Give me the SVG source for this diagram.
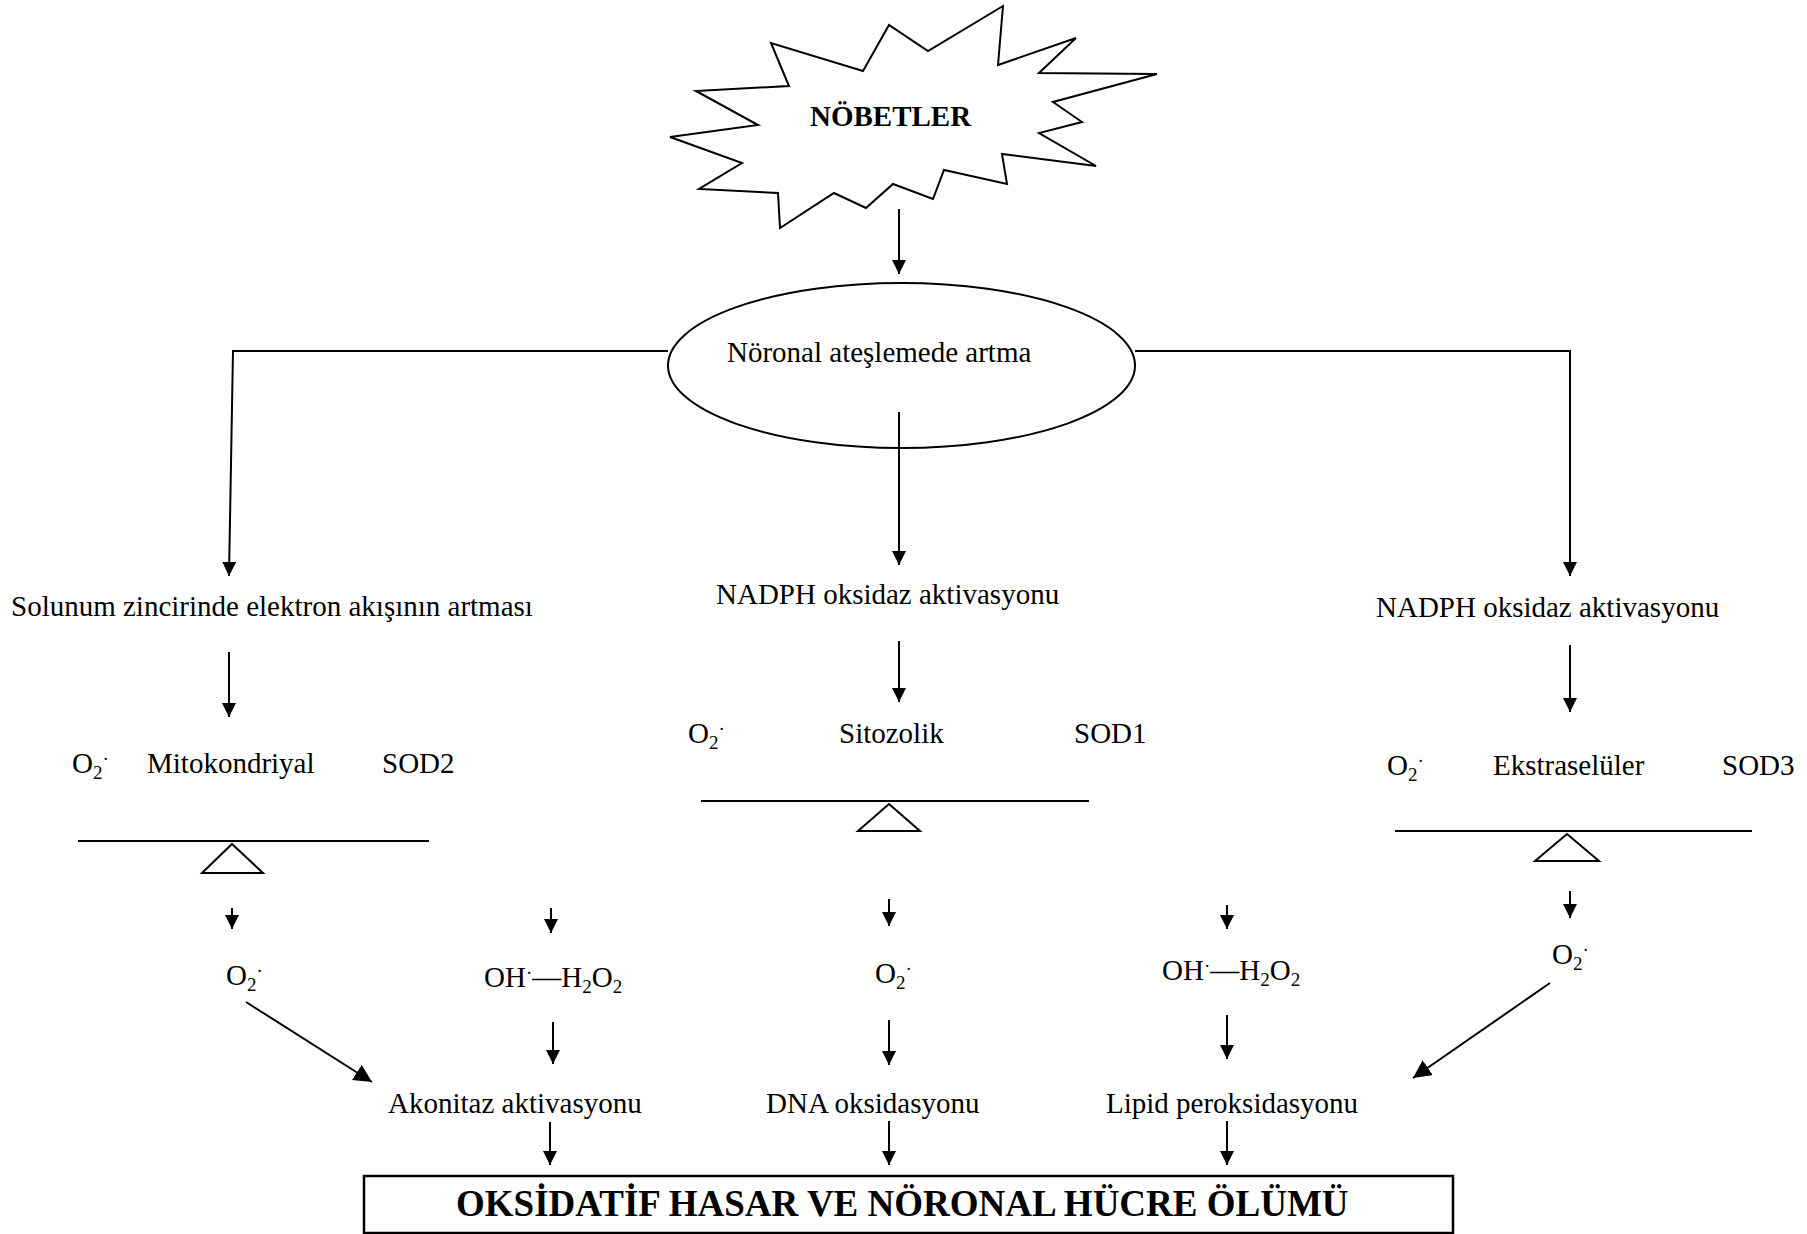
<svg xmlns="http://www.w3.org/2000/svg" width="1807" height="1234" viewBox="0 0 1807 1234">
<style>
  .t { font-family: "Liberation Serif", "Times New Roman", serif; font-size: 29px; fill: #000; }
  .b { font-weight: bold; }
  .s { font-size: 19px; }
  .ln { fill: none; stroke: #000; stroke-width: 2; }
  .shape { fill: #fff; stroke: #000; stroke-width: 2; }
</style>
<defs>
  <marker id="ah" viewBox="0 0 14 14" refX="14" refY="7" markerWidth="14" markerHeight="14" orient="auto" markerUnits="userSpaceOnUse">
    <path d="M0,0 L14,7 L0,14 z" fill="#000"/>
  </marker>
  <marker id="ah2" viewBox="0 0 18 18" refX="18" refY="9" markerWidth="18" markerHeight="18" orient="auto" markerUnits="userSpaceOnUse">
    <path d="M0,0 L18,9 L0,18 z" fill="#000"/>
  </marker>
</defs>
<rect width="1807" height="1234" fill="#fff"/>

<g id="nobetler">
  <polygon class="shape" points="1003,6 998,65 1076,38 1039,73 1157,74 1053,102 1082,122 1039,133 1096,166 1002,154 1007,184 944,170 933,199 893,184 866,208 834,193 780,228 778,193 699,189 742,163 670,137 758,125 696,91 789,86 771,43 863,71 889,25 928,51"/>
  <text class="t b" x="810" y="126">NÖBETLER</text>
</g>

<g id="noronal">
  <ellipse class="shape" cx="901.5" cy="365.5" rx="233.5" ry="82.5"/>
  <text class="t" x="727" y="362">Nöronal ateşlemede artma</text>
</g>

<g id="solunum"><text class="t" x="11" y="616">Solunum zincirinde elektron akışının artması</text></g>
<g id="nadph1"><text class="t" x="716" y="604">NADPH oksidaz aktivasyonu</text></g>
<g id="nadph2"><text class="t" x="1376" y="617">NADPH oksidaz aktivasyonu</text></g>

<g id="balance-sod2">
  <text class="t" x="72" y="773">O<tspan class="s" dy="6">2</tspan><tspan class="s" dy="-14">·</tspan></text>
  <text class="t" x="147" y="773">Mitokondriyal</text>
  <text class="t" x="382" y="773">SOD2</text>
  <line class="ln" x1="78" y1="841" x2="429" y2="841"/>
  <polygon class="shape" points="232,844 263,873 202,873"/>
</g>

<g id="balance-sod1">
  <text class="t" x="688" y="743">O<tspan class="s" dy="6">2</tspan><tspan class="s" dy="-14">·</tspan></text>
  <text class="t" x="839" y="743">Sitozolik</text>
  <text class="t" x="1074" y="743">SOD1</text>
  <line class="ln" x1="701" y1="801" x2="1089" y2="801"/>
  <polygon class="shape" points="889,804 920,831 858,831"/>
</g>

<g id="balance-sod3">
  <text class="t" x="1387" y="775">O<tspan class="s" dy="6">2</tspan><tspan class="s" dy="-14">·</tspan></text>
  <text class="t" x="1493" y="775">Ekstraselüler</text>
  <text class="t" x="1722" y="775">SOD3</text>
  <line class="ln" x1="1395" y1="831" x2="1752" y2="831"/>
  <polygon class="shape" points="1567,834 1599,861 1535,861"/>
</g>

<g id="o2-left"><text class="t" x="226" y="985">O<tspan class="s" dy="6">2</tspan><tspan class="s" dy="-14">·</tspan></text></g>
<g id="oh-left"><text class="t" x="484" y="987">OH<tspan class="s" dy="-8">·</tspan><tspan dy="8">—H</tspan><tspan class="s" dy="6">2</tspan><tspan dy="-6">O</tspan><tspan class="s" dy="6">2</tspan></text></g>
<g id="o2-mid"><text class="t" x="875" y="983">O<tspan class="s" dy="6">2</tspan><tspan class="s" dy="-14">·</tspan></text></g>
<g id="oh-right"><text class="t" x="1162" y="980">OH<tspan class="s" dy="-8">·</tspan><tspan dy="8">—H</tspan><tspan class="s" dy="6">2</tspan><tspan dy="-6">O</tspan><tspan class="s" dy="6">2</tspan></text></g>
<g id="o2-right"><text class="t" x="1552" y="964">O<tspan class="s" dy="6">2</tspan><tspan class="s" dy="-14">·</tspan></text></g>

<g id="akonitaz"><text class="t" x="388" y="1113">Akonitaz aktivasyonu</text></g>
<g id="dna"><text class="t" x="766" y="1113">DNA oksidasyonu</text></g>
<g id="lipid"><text class="t" x="1106" y="1113">Lipid peroksidasyonu</text></g>

<g id="sonuc">
  <rect x="364" y="1176" width="1089" height="57" fill="#fff" stroke="#000" stroke-width="2.5"/>
  <text class="t b" x="456" y="1216" style="font-size:37px">OKSİDATİF HASAR VE NÖRONAL HÜCRE ÖLÜMÜ</text>
</g>

<g id="connectors" class="ln">
  <line class="ln" x1="899" y1="209" x2="899" y2="274" marker-end="url(#ah)"/>
  <polyline class="ln" points="668,351 233,351 229,576" marker-end="url(#ah)"/>
  <polyline class="ln" points="1135,351 1570,351 1570,576" marker-end="url(#ah)"/>
  <line class="ln" x1="899" y1="412" x2="899" y2="565" marker-end="url(#ah)"/>

  <line class="ln" x1="229" y1="652" x2="229" y2="717" marker-end="url(#ah)"/>
  <line class="ln" x1="899" y1="641" x2="899" y2="702" marker-end="url(#ah)"/>
  <line class="ln" x1="1570" y1="645" x2="1570" y2="712" marker-end="url(#ah)"/>

  <line class="ln" x1="232" y1="908" x2="232" y2="929" marker-end="url(#ah)"/>
  <line class="ln" x1="551" y1="908" x2="551" y2="933" marker-end="url(#ah)"/>
  <line class="ln" x1="889" y1="899" x2="889" y2="926" marker-end="url(#ah)"/>
  <line class="ln" x1="1227" y1="905" x2="1227" y2="929" marker-end="url(#ah)"/>
  <line class="ln" x1="1570" y1="891" x2="1570" y2="918" marker-end="url(#ah)"/>

  <line class="ln" x1="246" y1="1002" x2="372" y2="1082" marker-end="url(#ah2)"/>
  <line class="ln" x1="553" y1="1022" x2="553" y2="1064" marker-end="url(#ah)"/>
  <line class="ln" x1="889" y1="1020" x2="889" y2="1065" marker-end="url(#ah)"/>
  <line class="ln" x1="1227" y1="1015" x2="1227" y2="1059" marker-end="url(#ah)"/>
  <line class="ln" x1="1550" y1="983" x2="1413" y2="1078" marker-end="url(#ah2)"/>

  <line class="ln" x1="550" y1="1122" x2="550" y2="1165" marker-end="url(#ah)"/>
  <line class="ln" x1="889" y1="1121" x2="889" y2="1165" marker-end="url(#ah)"/>
  <line class="ln" x1="1227" y1="1121" x2="1227" y2="1165" marker-end="url(#ah)"/>
</g>
</svg>
